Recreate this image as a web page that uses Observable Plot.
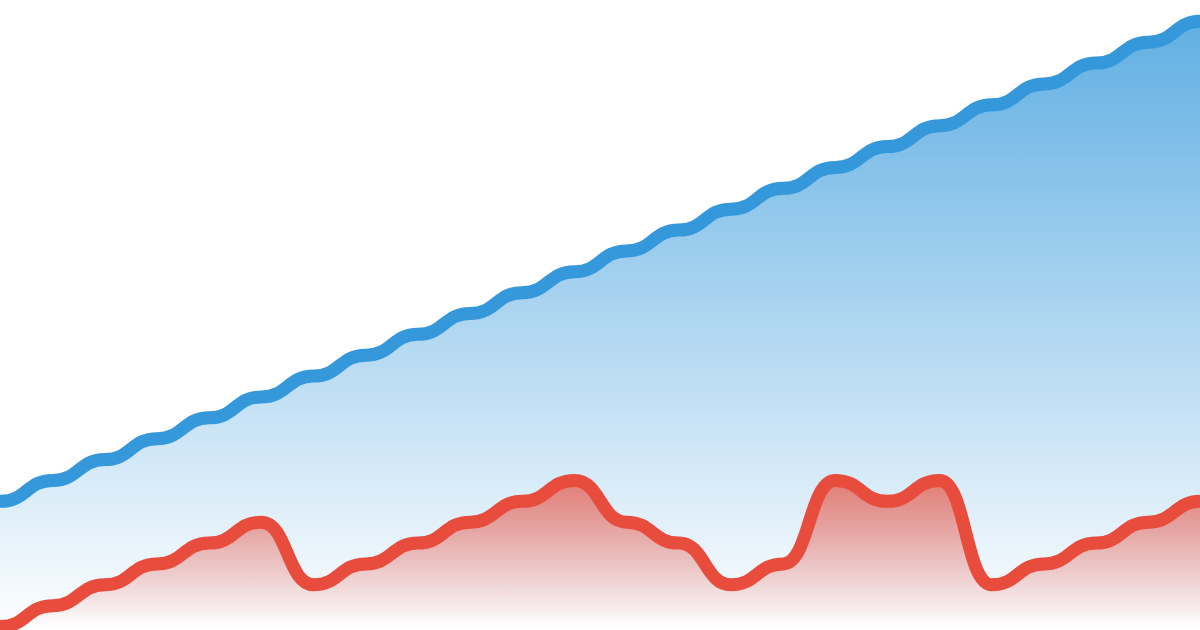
<!DOCTYPE html>
<html>
<head>
<meta charset="utf-8">
<script src="https://cdn.jsdelivr.net/npm/d3@7"></script>
<script src="https://cdn.jsdelivr.net/npm/@observablehq/plot@0.6"></script>
<style>
  html, body { margin: 0; padding: 0; background: #ffffff; overflow: hidden; }
  #chart svg { display: block; }
</style>
</head>
<body>
<div id="chart"></div>
<script>
// Step index along the x axis
const steps = d3.range(24);
// Upper (blue) series levels
const blueValues = [6, 7, 8, 9, 10, 11, 12, 13, 14, 15, 16, 17, 18, 19, 20, 21, 22, 23, 24, 25, 26, 27, 28, 29];
// Lower (red) series levels
const redValues = [0, 1, 2, 3, 4, 5, 2, 3, 4, 5, 6, 7, 5, 4, 2, 3, 7, 6, 7, 2, 3, 4, 5, 6];

const blue = steps.map((i) => ({i, v: blueValues[i]}));
const red = steps.map((i) => ({i, v: redValues[i]}));

const blueColor = "#3498db";
const redColor = "#e74c3c";

function gradients() {
  const defs = d3.create("svg:defs");
  const gb = defs.append("linearGradient").attr("id", "gradBlue")
    .attr("x1", 0).attr("y1", 0).attr("x2", 0).attr("y2", 1);
  gb.append("stop").attr("offset", "0%").attr("stop-color", blueColor).attr("stop-opacity", 0.78);
  gb.append("stop").attr("offset", "100%").attr("stop-color", blueColor).attr("stop-opacity", 0.01);
  const gr = defs.append("linearGradient").attr("id", "gradRed")
    .attr("x1", 0).attr("y1", 0).attr("x2", 0).attr("y2", 1);
  gr.append("stop").attr("offset", "0%").attr("stop-color", redColor).attr("stop-opacity", 0.7);
  gr.append("stop").attr("offset", "100%").attr("stop-color", redColor).attr("stop-opacity", 0.0);
  return defs.node();
}

const chart = Plot.plot({
  width: 1200,
  height: 630,
  margin: 0,
  x: {domain: [0, 23], range: [0, 1200], axis: null},
  y: {domain: [0, 30], range: [626, 0], axis: null},
  marks: [
    gradients,
    Plot.areaY(blue, {x: "i", y: "v", curve: "bump-x", fill: "url(#gradBlue)"}),
    Plot.areaY(red, {x: "i", y: "v", curve: "bump-x", fill: "url(#gradRed)"}),
    Plot.lineY(blue, {x: "i", y: "v", curve: "bump-x", stroke: blueColor, strokeWidth: 13, strokeLinecap: "round", strokeLinejoin: "round"}),
    Plot.lineY(red, {x: "i", y: "v", curve: "bump-x", stroke: redColor, strokeWidth: 13, strokeLinecap: "round", strokeLinejoin: "round"})
  ]
});
document.getElementById("chart").appendChild(chart);
</script>
</body>
</html>
